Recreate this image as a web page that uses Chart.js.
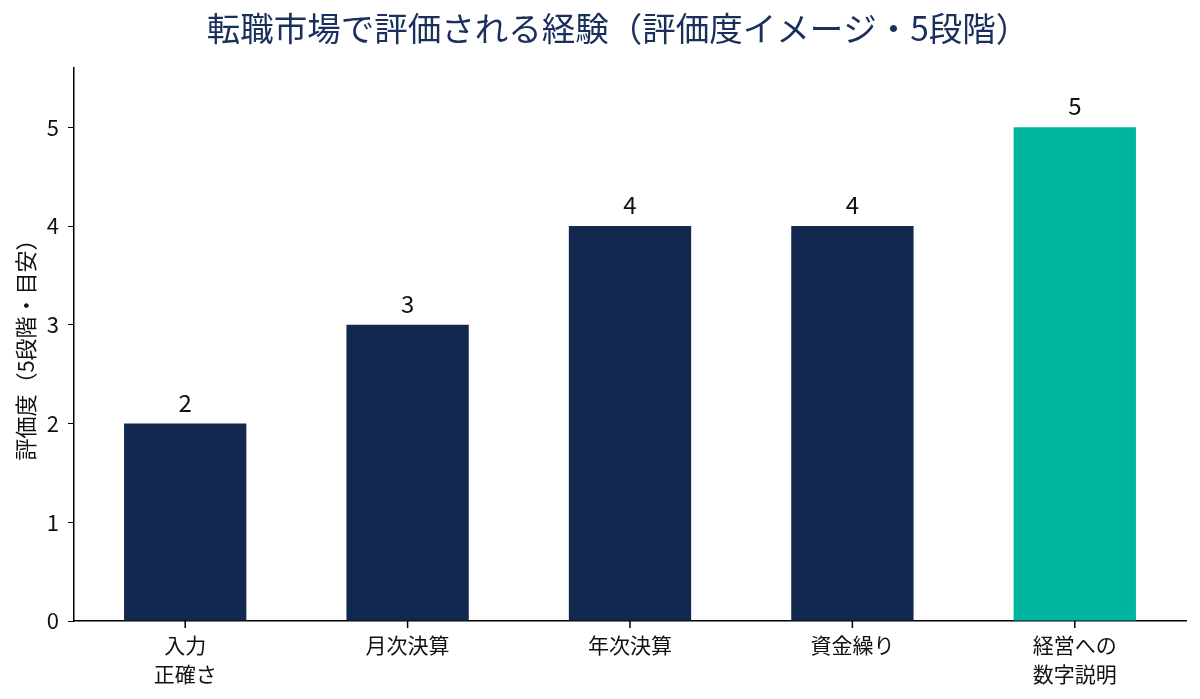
<!DOCTYPE html>
<html><head><meta charset="utf-8">
<script src="https://cdn.jsdelivr.net/npm/chart.js@4/dist/chart.umd.min.js"></script>
<style>html,body{margin:0;padding:0;background:#fff;}#wrap{width:1200px;height:699px;}</style>
</head><body><div id="wrap"><canvas id="c" width="1200" height="699"></canvas></div>
<script>
const categories = [['入力','正確さ'], '月次決算', '年次決算', '資金繰り', ['経営への','数字説明']];
const scores = [2, 3, 4, 4, 5];
const barColors = ['#12284f', '#12284f', '#12284f', '#12284f', '#00b5a0'];
const yTicks = [0, 1, 2, 3, 4, 5];
const titleText = '転職市場で評価される経験（評価度イメージ・5段階）';
const yTitle = '評価度（5段階・目安）';
const FONT = "'Noto Sans CJK JP', 'Noto Sans', sans-serif";

const labelPlugin = {
  id: 'valLabels',
  afterDatasetsDraw(chart) {
    const ctx = chart.ctx;
    const meta = chart.getDatasetMeta(0);
    ctx.save();
    ctx.font = '24px ' + FONT;
    ctx.fillStyle = '#111';
    ctx.textAlign = 'center';
    ctx.textBaseline = 'bottom';
    meta.data.forEach((bar, i) => {
      ctx.fillText(String(scores[i]), bar.x, bar.y - 9);
    });
    ctx.restore();
  }
};

const titlePlugin = {
  id: 'centeredTitle',
  afterDraw(chart) {
    const ctx = chart.ctx;
    const ca = chart.chartArea;
    ctx.save();
    ctx.font = '33.5px ' + FONT;
    ctx.fillStyle = '#1b2f5c';
    ctx.textAlign = 'center';
    ctx.textBaseline = 'middle';
    ctx.fillText(titleText, (ca.left + ca.right) / 2 - 12, 28);
    ctx.restore();
  }
};

const xTickPlugin = {
  id: 'xTickMarks',
  afterDraw(chart) {
    const ctx = chart.ctx;
    const xs = chart.scales.x;
    const y0 = chart.chartArea.bottom;
    ctx.save();
    ctx.strokeStyle = '#000';
    ctx.lineWidth = 1.5;
    ctx.beginPath();
    for (let i = 0; i < xs.ticks.length; i++) {
      const px = xs.getPixelForTick(i);
      ctx.moveTo(px, y0);
      ctx.lineTo(px, y0 + 7);
    }
    ctx.stroke();
    ctx.restore();
  }
};

new Chart(document.getElementById('c'), {
  type: 'bar',
  data: {
    labels: categories,
    datasets: [{ data: scores, backgroundColor: barColors, borderWidth: 0,
      categoryPercentage: 1.0, barPercentage: 0.55 }]
  },
  options: {
    responsive: false,
    animation: false,
    layout: { padding: { left: 12, right: 14, top: 68, bottom: 0 } },
    plugins: {
      legend: { display: false },
      tooltip: { enabled: false },
      title: { display: false }
    },
    scales: {
      x: {
        grid: { display: false, drawTicks: false, tickLength: 6 },
        border: { display: true, color: '#000', width: 1.5 },
        ticks: { color: '#111', font: { family: FONT, size: 21, lineHeight: 1.36 }, padding: 10, maxRotation: 0 },
        afterFit(s) { s.height = 78; }
      },
      y: {
        min: 0, max: 5.6,
        grid: { display: true, drawOnChartArea: false, drawTicks: true, tickLength: 6, color: '#000' },
        border: { display: true, color: '#000', width: 1.5 },
        ticks: { stepSize: 1, color: '#111', font: { family: FONT, size: 22 }, padding: 9 },
        afterBuildTicks(s) { s.ticks = yTicks.map(v => ({ value: v })); },
        title: { display: true, text: yTitle, color: '#111', font: { family: FONT, size: 22 }, padding: { top: 0, bottom: 4 } },
        afterFit(s) { s.width = 62; }
      }
    }
  },
  plugins: [labelPlugin, xTickPlugin, titlePlugin]
});
</script></body></html>
